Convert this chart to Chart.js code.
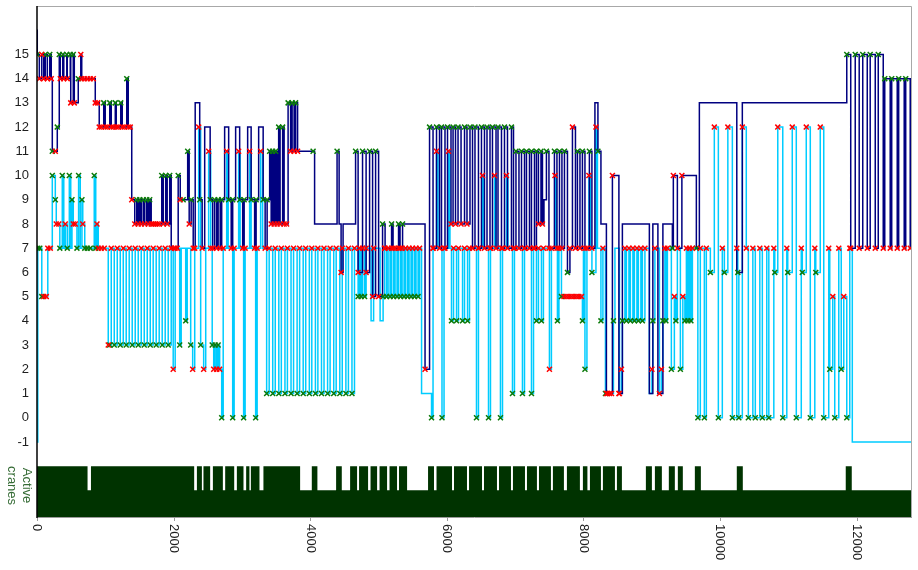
<!DOCTYPE html>
<html>
<head>
<meta charset="utf-8">
<script src="https://cdn.jsdelivr.net/npm/chart.js@4.4.1/dist/chart.umd.min.js"></script>
<style>
  html, body { margin: 0; padding: 0; background: #ffffff; }
  #wrap { width: 918px; height: 570px; position: relative; }
</style>
</head>
<body>
<div id="wrap"><canvas id="c"></canvas></div>
<script>
// Crane positions over time: [time, level, marker]  marker 'r' = pick, 'g' = drop, 0 = none
const navySteps = [
  [0,16,0],[4,15,'g'],[34,14,'r'],[70,15,'r'],[99,14,'r'],[121,15,'g'],[151,14,'r'],[187,15,'g'],[209,14,'r'],
  [224,11,'g'],[268,11,'r'],[297,12,'g'],[326,15,'g'],[341,14,'r'],[377,15,'g'],[392,14,'r'],[436,15,'g'],[443,14,'r'],
  [487,15,'g'],[494,13,'r'],[531,15,'g'],[546,13,'r'],[604,14,'g'],[641,15,'r'],[655,14,'r'],[692,14,'r'],[736,14,'r'],
  [780,14,'r'],[824,14,'r'],[853,13,'r'],[889,13,'r'],[911,12,'r'],[941,12,'r'],[977,13,'g'],[999,12,'r'],[1028,12,'r'],
  [1065,13,'g'],[1087,12,'r'],[1116,12,'r'],[1146,13,'g'],[1160,12,'r'],[1189,12,'r'],[1226,13,'g'],[1248,12,'r'],
  [1277,12,'r'],[1314,14,'g'],[1336,12,'r'],[1365,12,'r'],[1387,9,'r'],[1431,8,'r'],[1460,9,'g'],[1482,8,'r'],[1504,9,'g'],
  [1526,8,'r'],[1555,9,'g'],[1577,8,'r'],[1606,9,'g'],[1628,8,'r'],[1650,9,'g'],[1672,8,'r'],[1701,8,'r'],[1731,8,'r'],
  [1760,8,'r'],[1789,8,'r'],[1826,10,'g'],[1848,8,'r'],[1884,10,'g'],[1906,8,'r'],[1943,10,'g'],[1965,7,'r'],[2009,7,'r'],
  [2053,7,'r'],[2067,10,'g'],[2097,9,'r'],[2140,9,'g'],[2206,11,'g'],[2228,8,'r'],[2257,9,'g'],[2287,7,'r'],[2316,13,0],
  [2382,9,'g'],[2418,7,'r'],[2455,12,0],[2535,9,'g'],[2572,7,'r'],[2601,9,'g'],[2630,7,'r'],[2652,9,'g'],[2682,7,'r'],
  [2704,9,'g'],[2747,12,0],[2806,9,'g'],[2843,7,'r'],[2865,9,'g'],[2908,12,0],[2967,9,'g'],[3011,7,'r'],[3033,9,'g'],
  [3084,12,0],[3135,9,'g'],[3186,7,'r'],[3208,9,'g'],[3245,12,0],[3311,9,'g'],[3340,7,'r'],[3369,9,'g'],[3406,11,'g'],
  [3428,8,'r'],[3450,11,'g'],[3472,8,'r'],[3494,11,'g'],[3516,8,'r'],[3538,12,'g'],[3559,8,'r'],[3596,12,'g'],[3618,8,'r'],
  [3654,8,'r'],[3676,13,'g'],[3713,11,'r'],[3735,13,'g'],[3764,11,'r'],[3786,13,'g'],[3815,11,'r'],[4042,11,'g'],
  [4064,8,0],[4393,11,'g'],[4423,8,0],[4452,6,'r'],[4481,8,0],[4664,11,'g'],[4701,6,'r'],[4766,11,'g'],[4818,6,'r'],
  [4869,11,'g'],[4913,5,'r'],[4957,11,'g'],[5001,5,'r'],[5059,8,'g'],[5096,7,'r'],[5191,8,'g'],[5213,7,'r'],[5293,8,'g'],
  [5315,7,'r'],[5352,8,'g'],[5681,2,'r'],[5747,12,'g'],[5798,7,'r'],[5849,12,'g'],[5893,7,'r'],[5922,12,'g'],[5973,7,'r'],
  [6010,12,'g'],[6061,8,'r'],[6091,12,'g'],[6127,8,'r'],[6164,12,'g'],[6208,8,'r'],[6259,12,'g'],[6295,8,'r'],[6339,12,'g'],
  [6376,7,'r'],[6412,12,'g'],[6463,7,'r'],[6507,12,'g'],[6551,7,'r'],[6588,12,'g'],[6632,7,'r'],[6668,12,'g'],[6720,7,'r'],
  [6749,12,'g'],[6800,7,'r'],[6844,12,'g'],[6888,7,'r'],[6946,12,'g'],[6976,7,'r'],[7012,11,'g'],[7056,7,'r'],[7093,11,'g'],
  [7137,7,'r'],[7166,11,'g'],[7210,7,'r'],[7239,11,'g'],[7283,7,'r'],[7312,11,'g'],[7341,8,'r'],[7378,11,'g'],[7400,8,'r'],
  [7422,9,0],[7458,11,'g'],[7495,7,'r'],[7575,11,'g'],[7612,7,'r'],[7649,11,'g'],[7685,7,'r'],[7722,11,'g'],[7766,6,'g'],
  [7802,7,'r'],[7839,12,'r'],[7883,7,'r'],[7912,11,'g'],[7949,7,'r'],[7985,11,'g'],[8022,7,'r'],[8087,11,'g'],[8124,7,'r'],
  [8168,13,0],[8212,11,'g'],[8256,8,0],[8336,1,'r'],[8424,10,'r'],[8519,1,'r'],[8570,8,0],[8965,1,0],[9016,8,0],[9090,1,0],
  [9163,8,0],[9302,7,'g'],[9316,10,'r'],[9375,7,0],[9441,10,'r'],[9653,7,'g'],[9697,13,0],[10245,6,0],[10326,13,0],
  [11855,15,'g'],[11913,7,'r'],[11979,15,'g'],[12037,7,'r'],[12089,15,'g'],[12155,7,'r'],[12198,15,'g'],[12272,7,'r'],
  [12316,15,'g'],[12389,7,'r'],[12411,14,'g'],[12491,7,'r'],[12513,14,'g'],[12594,7,'r'],[12615,14,'g'],[12696,7,'r'],
  [12718,14,'g'],[12784,7,'r'],[12798,14,0],[12810,14,0]
];

const cyanSteps = [
  [0,-1,0],[12,7,'g'],[41,7,'g'],[70,5,'g'],[99,5,'r'],[136,5,'r'],[158,7,'r'],[195,7,'r'],[224,10,'g'],[268,9,'g'],
  [282,8,'r'],[319,8,'r'],[334,7,'g'],[370,10,'g'],[392,7,0],[414,8,'r'],[443,7,'g'],[473,10,'g'],[494,7,0],[512,9,'g'],
  [531,8,'r'],[560,8,'r'],[585,7,'g'],[609,10,'g'],[633,7,0],[658,9,'g'],[670,8,'r'],[699,7,'g'],[736,7,'g'],[780,7,'g'],
  [838,10,'g'],[860,7,'g'],[878,8,'r'],[897,7,'r'],[941,7,'r'],[985,7,'r'],
  [1043,3,'r'],[1065,3,'g'],[1087,7,'r'],[1131,3,'g'],[1175,7,'r'],[1219,3,'g'],[1263,7,'r'],[1306,3,'g'],[1350,7,'r'],
  [1394,3,'g'],[1438,7,'r'],[1482,3,'g'],[1526,7,'r'],[1570,3,'g'],[1614,7,'r'],[1658,3,'g'],[1701,7,'r'],[1745,3,'g'],
  [1789,7,'r'],[1833,3,'g'],[1877,7,'r'],[1921,3,'g'],[1965,7,'r'],[1994,2,'r'],[2023,7,'r'],[2089,3,'g'],[2111,7,0],
  [2177,4,'g'],[2199,7,0],[2250,3,'g'],[2279,2,'r'],[2309,7,'r'],[2367,12,'r'],[2396,3,'g'],[2440,2,'r'],[2470,7,0],
  [2513,11,'r'],[2543,7,'r'],[2565,3,'g'],[2587,2,'r'],[2608,3,'g'],[2631,2,'r'],[2652,3,'g'],[2674,2,'r'],[2704,0,'g'],
  [2726,7,'r'],[2777,11,'r'],[2799,7,0],[2865,0,'g'],[2886,7,'r'],[2952,11,'r'],[2974,7,0],[3025,0,'g'],[3047,7,'r'],
  [3113,11,'r'],[3135,7,0],[3201,0,'g'],[3223,7,'r'],[3274,11,'r'],[3303,7,0],
  [3362,1,'g'],[3399,7,'r'],[3451,1,'g'],[3488,7,'r'],[3540,1,'g'],[3577,7,'r'],[3630,1,'g'],[3666,7,'r'],[3719,1,'g'],
  [3756,7,'r'],[3808,1,'g'],[3845,7,'r'],[3897,1,'g'],[3934,7,'r'],[3987,1,'g'],[4023,7,'r'],[4076,1,'g'],[4112,7,'r'],
  [4165,1,'g'],[4202,7,'r'],[4254,1,'g'],[4291,7,'r'],[4344,1,'g'],[4380,7,'r'],[4433,1,'g'],[4469,7,'r'],[4522,1,'g'],
  [4559,7,'r'],[4611,1,'g'],[4648,7,'r'],
  [4701,5,'g'],[4723,7,'r'],[4745,5,'g'],[4766,7,'r'],[4796,5,'g'],[4818,7,'r'],[4891,4,0],[4928,7,'r'],[5023,4,0],
  [5067,5,'g'],[5088,7,'r'],[5117,5,'g'],[5140,7,'r'],[5169,5,'g'],[5191,7,'r'],[5220,5,'g'],[5242,7,'r'],[5271,5,'g'],
  [5293,7,'r'],[5323,5,'g'],[5345,7,'r'],[5374,5,'g'],[5396,7,'r'],[5425,5,'g'],[5447,7,'r'],[5476,5,'g'],[5498,7,'r'],
  [5527,5,'g'],[5549,7,'r'],[5579,5,'g'],[5601,7,'r'],[5630,1,0],[5776,0,'g'],[5798,7,'r'],
  [5849,11,'r'],[5871,7,0],[5929,0,'g'],[5959,7,'r'],[6024,11,'r'],[6046,7,0],[6068,4,'g'],[6098,7,'r'],[6142,4,'g'],
  [6171,7,'r'],[6230,4,'g'],[6259,7,'r'],[6303,4,'g'],[6332,7,'r'],[6434,0,'g'],[6463,7,'r'],[6522,10,'r'],[6544,7,0],
  [6610,0,'g'],[6639,7,'r'],[6698,10,'r'],[6720,7,0],[6785,0,'g'],[6815,7,'r'],[6873,10,'r'],[6895,7,0],[6961,1,'g'],
  [6990,7,'r'],[7107,1,'g'],[7137,7,'r'],[7239,1,'g'],[7269,7,'r'],[7312,4,'g'],[7341,7,'r'],[7385,4,'g'],[7414,7,'r'],
  [7502,2,'r'],[7531,7,'r'],[7583,10,'r'],[7605,7,0],[7619,4,'g'],[7641,7,'r'],[7678,5,'g'],[7715,5,'r'],[7751,5,'r'],
  [7788,5,'r'],[7824,5,'r'],[7861,5,'r'],[7898,5,'r'],[7934,5,'r'],[7971,5,'r'],[7985,4,'g'],[8000,7,0],[8022,2,'g'],
  [8051,7,'r'],[8080,10,'r'],[8102,7,0],[8124,6,'g'],[8183,12,'r'],[8205,7,0],[8256,4,'g'],[8285,7,'r'],[8322,1,'g'],
  [8351,1,'r'],[8380,1,'r'],[8410,1,'r'],[8439,4,'g'],[8461,7,0],[8527,1,'r'],[8556,2,'r'],
  [8570,4,'g'],[8607,7,'r'],[8629,4,'g'],[8666,7,'r'],[8687,4,'g'],[8724,7,'r'],[8746,4,'g'],[8783,7,'r'],[8804,4,'g'],
  [8841,7,'r'],[8863,4,'g'],[8900,7,'r'],[8965,1,0],[9002,2,'r'],[9016,4,'g'],[9046,7,'r'],
  [9112,1,'r'],[9141,2,'r'],[9163,4,'g'],[9192,7,'r'],[9207,4,'g'],[9229,7,'r'],[9287,2,'g'],[9331,5,'r'],[9353,4,'g'],
  [9375,7,'r'],[9419,2,'g'],[9455,5,'r'],[9485,4,'g'],[9507,7,'r'],[9529,4,'g'],[9551,7,'r'],[9573,4,'g'],[9595,7,'r'],
  [9675,0,'g'],[9711,7,'r'],[9770,0,'g'],[9799,7,'r'],[9858,6,'g'],[9916,12,'r'],[9975,0,'g'],[10033,7,'r'],[10063,6,'g'],
  [10114,12,'r'],[10180,0,'g'],[10245,7,'r'],[10260,6,'g'],[10275,0,'g'],[10326,12,'r'],[10384,7,'r'],[10414,0,'g'],
  [10480,7,'r'],[10516,0,'g'],[10582,7,'r'],[10619,0,'g'],[10684,7,'r'],[10714,0,'g'],[10787,7,'r'],[10801,6,'g'],
  [10845,12,'r'],[10918,0,'g'],[10977,7,'r'],[10991,6,'g'],[11057,12,'r'],[11116,0,'g'],[11189,7,'r'],[11204,6,'g'],
  [11262,12,'r'],[11321,0,'g'],[11387,7,'r'],[11401,6,'g'],[11467,12,'r'],[11518,0,'g'],[11591,7,'r'],[11606,2,'g'],
  [11650,5,'r'],[11679,0,'g'],[11738,7,'r'],[11774,2,'g'],[11811,5,'r'],[11855,0,'g'],[11899,7,'r'],[11936,-1,0],
  [12810,-1,0]
];

// Number of active cranes over time: [time, count]
const craneSteps = [
  [0,2],[740,1],[790,2],[2301,1],[2341,2],[2414,1],[2437,2],[2535,1],[2575,2],[2721,1],[2755,2],[2887,1],[2926,2],
  [3023,1],[3062,2],[3110,1],[3131,2],[3257,1],[3315,2],[3852,1],[4023,2],[4105,1],[4379,2],[4462,1],[4584,2],
  [4686,1],[4715,2],[4847,1],[4883,2],[4979,1],[5015,2],[5125,1],[5161,2],[5271,1],[5300,2],[5418,1],[5725,2],
  [5812,1],[5849,2],[6076,1],[6105,2],[6295,1],[6325,2],[6515,1],[6544,2],[6734,1],[6764,2],[6939,1],[6968,2],
  [7144,1],[7173,2],[7319,1],[7349,2],[7524,1],[7553,2],[7714,1],[7758,2],[7948,1],[7992,2],[8058,1],[8095,2],
  [8256,1],[8285,2],[8461,1],[8490,2],[8563,1],[8914,2],[9002,1],[9046,2],[9148,1],[9250,2],[9338,1],[9382,2],
  [9455,1],[9631,2],[9719,1],[10245,2],[10333,1],[11840,2],[11928,1],[12810,1]
];

const xTickValues = [0, 2000, 4000, 6000, 8000, 10000, 12000];
const yTickValues = [-1, 0, 1, 2, 3, 4, 5, 6, 7, 8, 9, 10, 11, 12, 13, 14, 15];
const bandLabel = ['Active', 'cranes'];

const toPoints = steps => steps.map(s => ({ x: s[0], y: s[1] }));
const marksOf = (kind) => navySteps.concat(cyanSteps).filter(s => s[2] === kind).map(s => ({ x: s[0], y: s[1] }));

const FONT = '"Liberation Sans", Arial, sans-serif';

const framePlugin = {
  id: 'frame',
  afterDraw(chart) {
    const { ctx, chartArea: a, scales } = chart;
    const xs = scales.x, ys = scales.y;
    ctx.save();
    // light border on top and right
    ctx.strokeStyle = '#a8a8a8';
    ctx.lineWidth = 1;
    ctx.beginPath();
    ctx.moveTo(a.left, a.top + 0.5);
    ctx.lineTo(a.right - 0.5, a.top + 0.5);
    ctx.lineTo(a.right - 0.5, a.bottom);
    ctx.stroke();
    // bottom axis line and ticks
    ctx.strokeStyle = '#9a9a9a';
    ctx.beginPath();
    ctx.moveTo(a.left, a.bottom + 0.5);
    ctx.lineTo(a.right, a.bottom + 0.5);
    xTickValues.forEach(v => {
      const x = Math.round(xs.getPixelForValue(v)) + 0.5;
      ctx.moveTo(x, a.bottom);
      ctx.lineTo(x, a.bottom + 4);
    });
    ctx.stroke();
    // left axis line
    ctx.strokeStyle = '#000000';
    ctx.lineWidth = 1.5;
    ctx.beginPath();
    ctx.moveTo(a.left, a.top);
    ctx.lineTo(a.left, a.bottom + 1);
    ctx.stroke();

    // y tick labels
    ctx.fillStyle = '#1e1e1e';
    ctx.font = '13px ' + FONT;
    ctx.textAlign = 'right';
    ctx.textBaseline = 'middle';
    yTickValues.forEach(v => {
      ctx.fillText(String(v), a.left - 8, ys.getPixelForValue(v));
    });

    // x tick labels, rotated clockwise
    ctx.textAlign = 'left';
    xTickValues.forEach(v => {
      const x = xs.getPixelForValue(v);
      ctx.save();
      ctx.translate(x, a.bottom + 7);
      ctx.rotate(Math.PI / 2);
      ctx.fillText(String(v), 0, 0);
      ctx.restore();
    });

    // band title
    const yc = scales.yc;
    const midY = (yc.getPixelForValue(2) + a.bottom) / 2 - 6;
    ctx.fillStyle = '#356b35';
    ctx.font = '13px ' + FONT;
    ctx.textAlign = 'center';
    ctx.save();
    ctx.translate(a.left - 10, midY);
    ctx.rotate(Math.PI / 2);
    ctx.fillText(bandLabel[0], 0, 0);
    ctx.fillText(bandLabel[1], 0, 15);
    ctx.restore();
    ctx.restore();
  }
};

new Chart(document.getElementById('c'), {
  type: 'line',
  data: {
    datasets: [
      {
        label: 'pick',
        data: marksOf('r'),
        showLine: false,
        pointStyle: 'crossRot',
        pointRadius: 3.5,
        pointBorderWidth: 1.5,
        pointBorderColor: '#ff0000',
        pointBackgroundColor: '#ff0000'
      },
      {
        label: 'drop',
        data: marksOf('g'),
        showLine: false,
        pointStyle: 'crossRot',
        pointRadius: 3.5,
        pointBorderWidth: 1.5,
        pointBorderColor: '#0a7a0a',
        pointBackgroundColor: '#0a7a0a'
      },
      {
        label: 'crane 1',
        data: toPoints(navySteps),
        stepped: true,
        borderColor: '#000080',
        borderWidth: 1.5,
        pointRadius: 0,
        fill: false
      },
      {
        label: 'crane 2',
        data: toPoints(cyanSteps),
        stepped: true,
        borderColor: '#00ccff',
        borderWidth: 1.5,
        pointRadius: 0,
        fill: false
      },
      {
        label: 'Active cranes',
        data: toPoints(craneSteps),
        yAxisID: 'yc',
        stepped: true,
        borderWidth: 0,
        borderColor: 'rgba(0,0,0,0)',
        backgroundColor: '#003300',
        pointRadius: 0,
        fill: 'start'
      }
    ]
  },
  options: {
    responsive: true,
    maintainAspectRatio: false,
    animation: false,
    parsing: false,
    normalized: true,
    layout: { padding: { left: 37, right: 6, top: 6, bottom: 53 } },
    plugins: { legend: { display: false }, tooltip: { enabled: false } },
    scales: {
      x: { type: 'linear', min: 0, max: 12810, display: false },
      y: { type: 'linear', min: -4.1, max: 17, display: false },
      yc: { type: 'linear', min: -0.1, max: 21, display: false }
    }
  },
  plugins: [framePlugin]
});
</script>
</body>
</html>
